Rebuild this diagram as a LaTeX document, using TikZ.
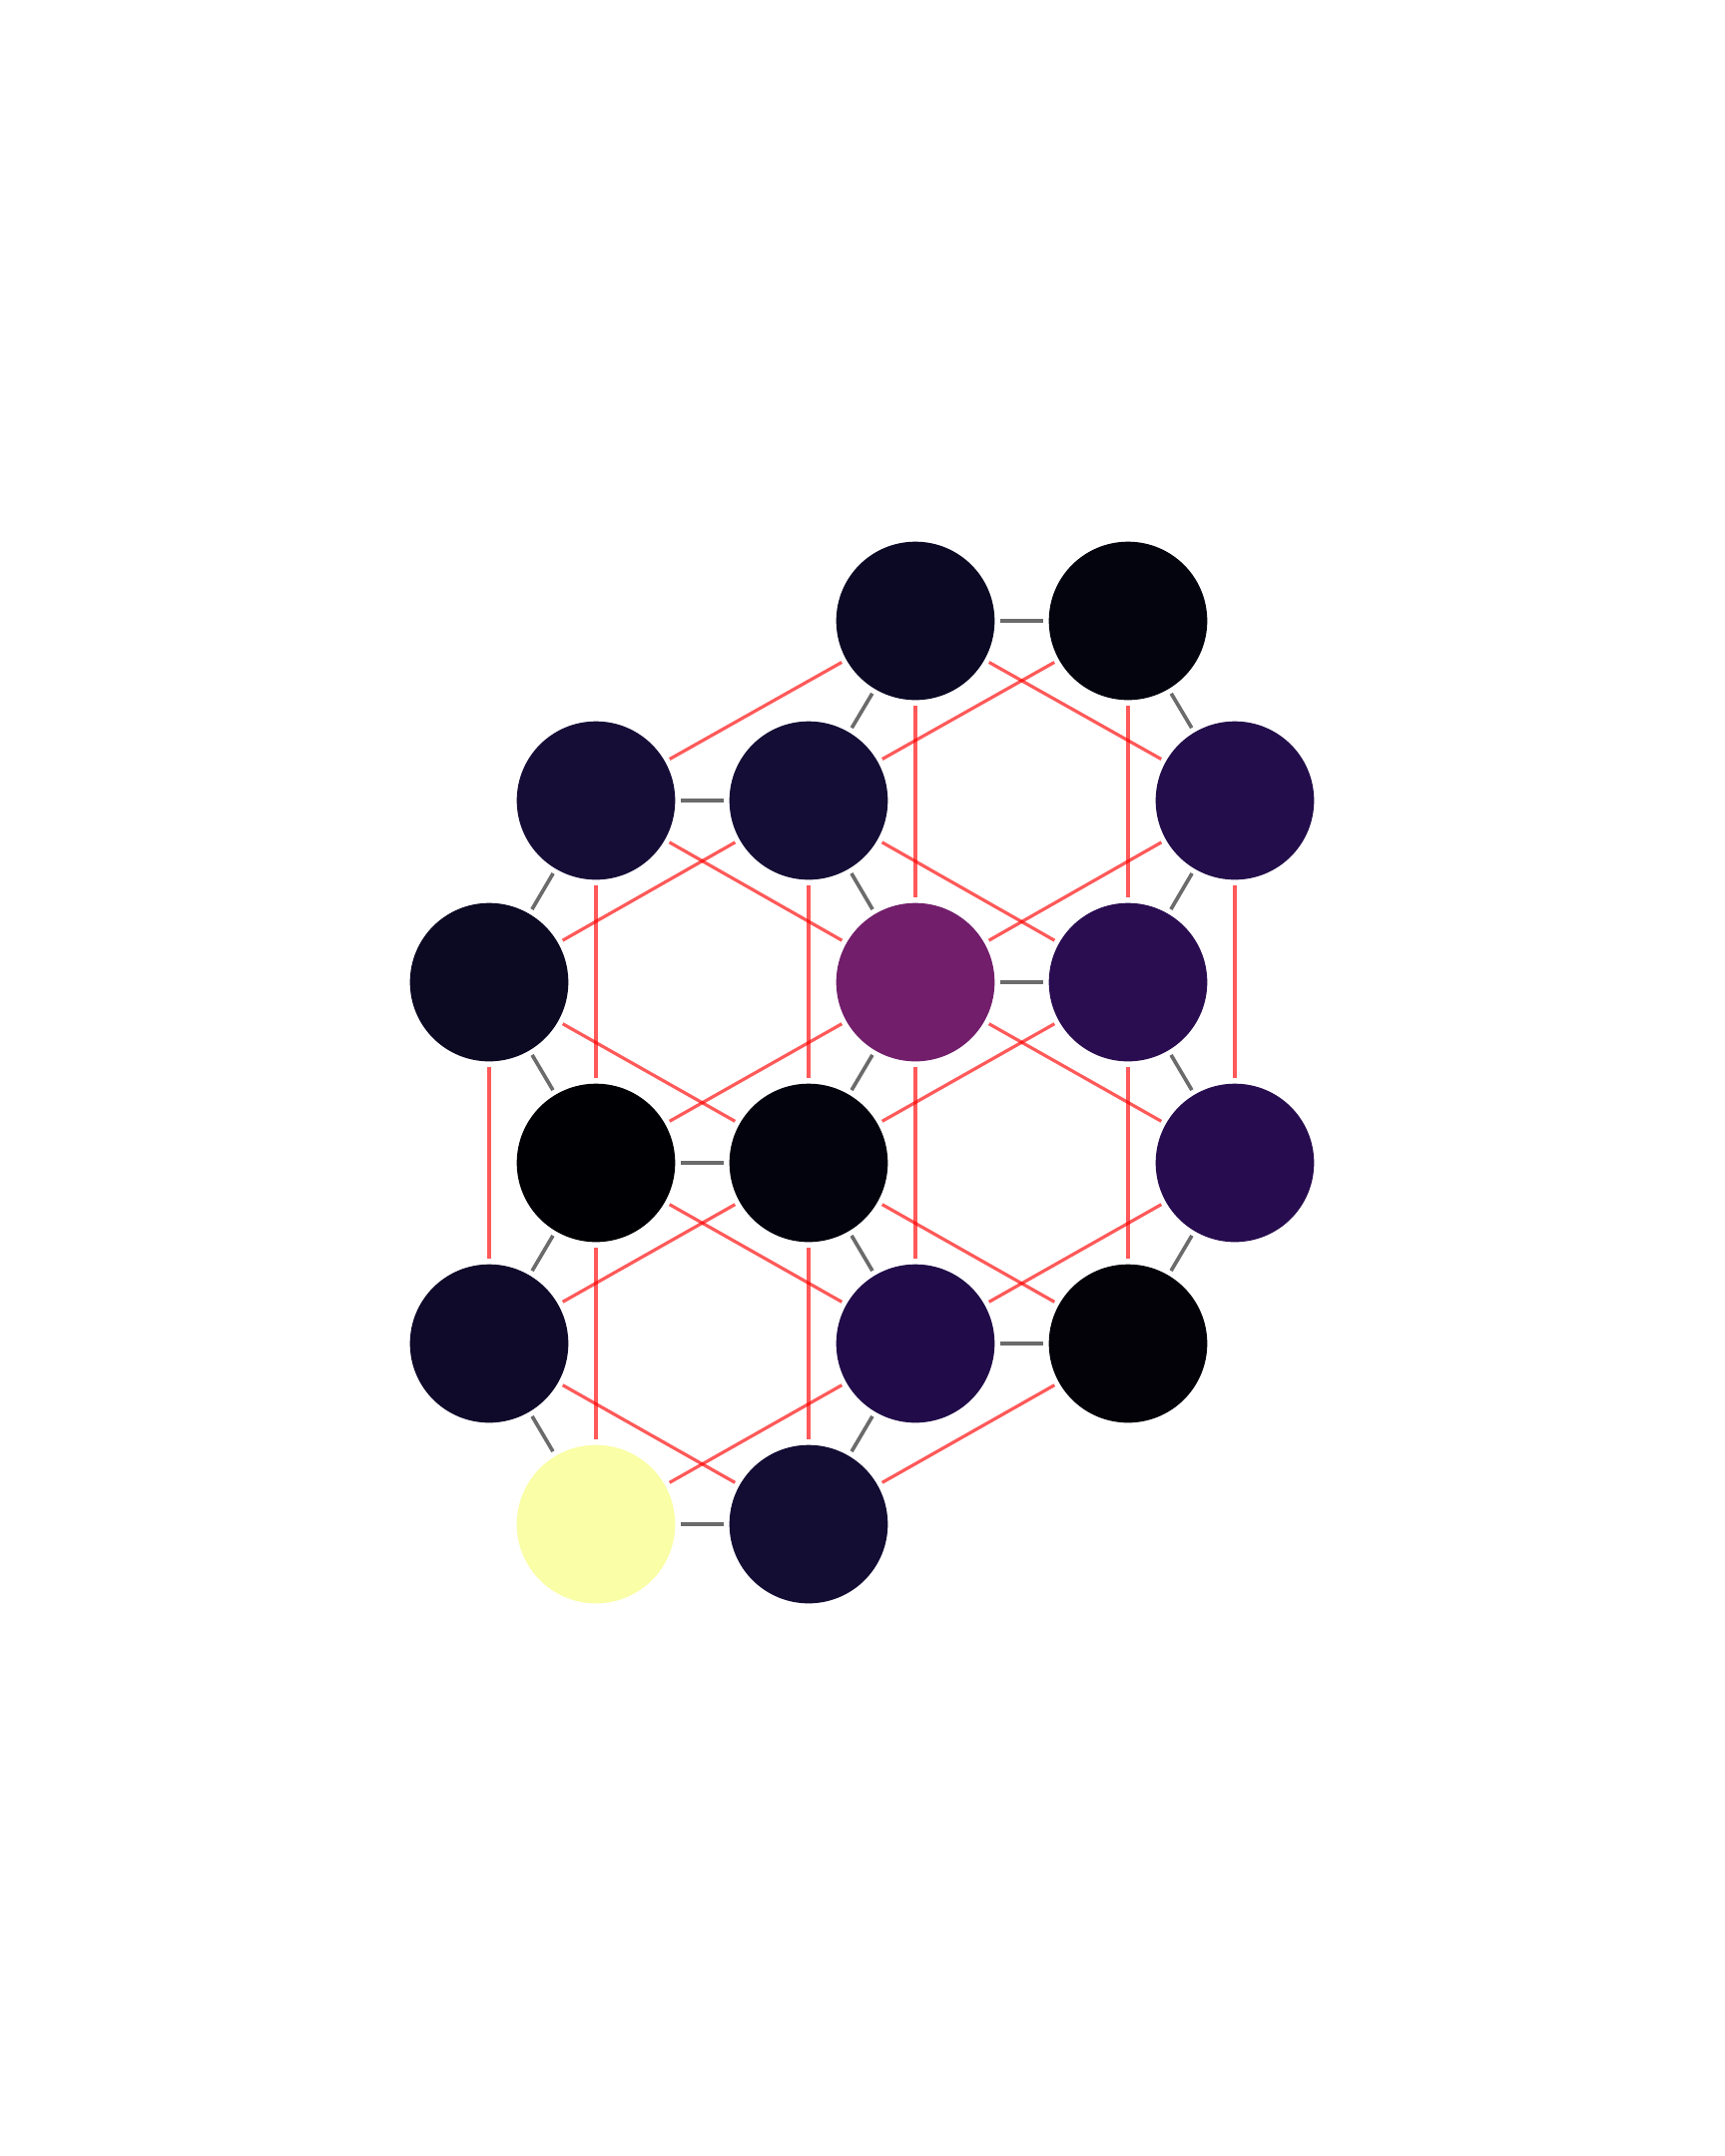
\documentclass[tikz,border=0pt]{standalone}
\usepackage{xcolor}
\definecolor{cA}{HTML}{0B0924}
\definecolor{cB}{HTML}{04040F}
\definecolor{cC}{HTML}{160D37}
\definecolor{cD}{HTML}{140D35}
\definecolor{cE}{HTML}{230E4B}
\definecolor{cF}{HTML}{0C0923}
\definecolor{cG}{HTML}{721E6B}
\definecolor{cH}{HTML}{2A0C51}
\definecolor{cI}{HTML}{000004}
\definecolor{cJ}{HTML}{03030E}
\definecolor{cK}{HTML}{270D4F}
\definecolor{cL}{HTML}{0F0A2A}
\definecolor{cM}{HTML}{210C49}
\definecolor{cN}{HTML}{020208}
\definecolor{cO}{HTML}{FAFEA6}
\definecolor{cP}{HTML}{130C33}
\definecolor{bondgray}{HTML}{6B6B6B}
\begin{document}
\begin{tikzpicture}[x=0.3pt,y=-0.3pt,
  site/.style={circle,minimum size=47.6pt,inner sep=0pt,outer sep=1.6pt,draw=none},
  bond/.style={draw=bondgray,line width=1.1pt},
  second/.style={draw=red,draw opacity=0.65,line width=0.95pt}]
\useasboundingbox (0,0) rectangle (1728,2160);
\node[site,fill=cA] (a) at (917,622) {};
\node[site,fill=cB] (b) at (1130,622) {};
\node[site,fill=cC] (c) at (597,802) {};
\node[site,fill=cD] (d) at (810,802) {};
\node[site,fill=cE] (e) at (1237,802) {};
\node[site,fill=cF] (f) at (490,984) {};
\node[site,fill=cG] (g) at (917,984) {};
\node[site,fill=cH] (h) at (1130,984) {};
\node[site,fill=cI] (i) at (597,1165) {};
\node[site,fill=cJ] (j) at (810,1165) {};
\node[site,fill=cK] (k) at (1237,1165) {};
\node[site,fill=cL] (l) at (490,1346) {};
\node[site,fill=cM] (m) at (917,1346) {};
\node[site,fill=cN] (n) at (1130,1346) {};
\node[site,fill=cO] (o) at (597,1527) {};
\node[site,fill=cP] (p) at (810,1527) {};
% nearest-neighbour bonds
\foreach \u/\v in {a/b,a/d,b/e,c/d,c/f,d/g,e/h,g/h,f/i,g/j,h/k,i/j,i/l,j/m,k/n,m/n,l/o,m/p,o/p}
  \draw[bond] (\u) -- (\v);
% second-neighbour bonds
\foreach \u/\v in {c/i,i/o,d/j,j/p,a/g,g/m,b/h,h/n,f/l,e/k,
  c/a,d/b,a/e,f/d,c/g,d/h,g/e,f/j,i/g,j/h,g/k,l/j,i/m,j/n,m/k,l/p,o/m,p/n}
  \draw[second] (\u) -- (\v);
\end{tikzpicture}
\end{document}
